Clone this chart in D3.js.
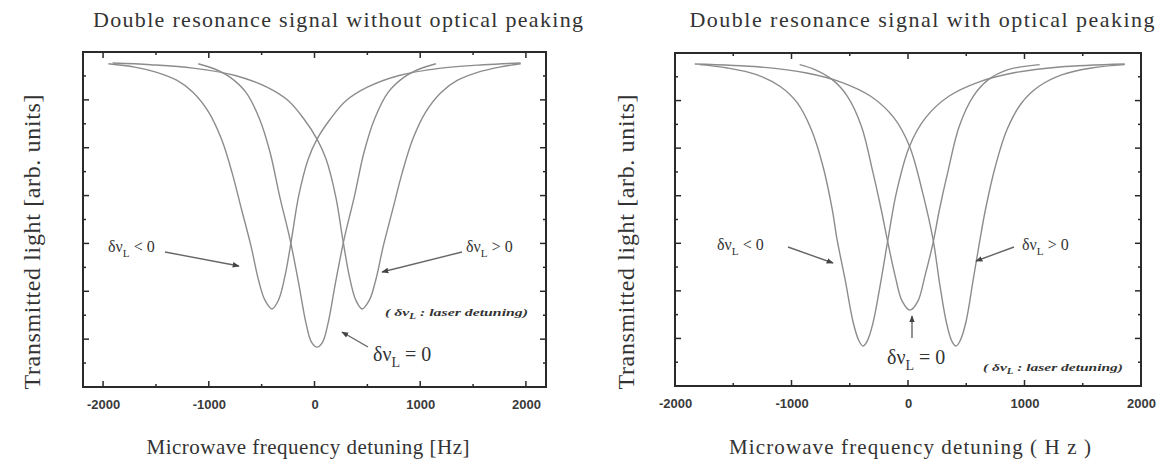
<!DOCTYPE html>
<html>
<head>
<meta charset="utf-8">
<script src="https://cdn.jsdelivr.net/npm/d3@7"></script>
<style>
  html, body { margin: 0; padding: 0; background: #fff; }
  svg { display: block; }
</style>
</head>
<body>
<svg id="chart" width="1167" height="469"></svg>
<script>
// ---- data: transmitted light (arb. units) vs microwave detuning (Hz) ----
const xTickValues = [-2000, -1000, 0, 1000, 2000];
const xTickLabels = ["-2000", "-1000", "0", "1000", "2000"];

// without optical peaking
const noPeakLowHz  = [-1950, -1700, -1500, -1300, -1150, -1000, -880, -780, -690, -600, -530, -470, -402, -340, -280, -218, -150, -60, 24, 150, 300, 500, 800, 1200, 1600, 1950];
const noPeakLowVal = [0.965, 0.955, 0.94, 0.915, 0.88, 0.82, 0.74, 0.64, 0.53, 0.42, 0.32, 0.26, 0.233, 0.26, 0.33, 0.44, 0.57, 0.68, 0.74, 0.80, 0.855, 0.895, 0.93, 0.952, 0.962, 0.967];
const noPeakCenterHz  = [-1100, -950, -800, -650, -520, -420, -330, -231, -150, -80, -30, 24, 78, 128, 198, 279, 378, 468, 568, 698, 848, 998, 1148];
const noPeakCenterVal = [0.965, 0.95, 0.925, 0.88, 0.80, 0.70, 0.57, 0.44, 0.31, 0.19, 0.135, 0.119, 0.135, 0.19, 0.31, 0.44, 0.57, 0.70, 0.80, 0.88, 0.925, 0.95, 0.965];
const noPeakHighHz  = [-1910, -1550, -1150, -750, -450, -250, -100, 24, 110, 200, 268, 330, 390, 450, 520, 580, 650, 740, 830, 930, 1050, 1200, 1350, 1550, 1750, 1950];
const noPeakHighVal = [0.967, 0.962, 0.952, 0.93, 0.895, 0.855, 0.80, 0.74, 0.68, 0.57, 0.44, 0.33, 0.26, 0.233, 0.26, 0.32, 0.42, 0.53, 0.64, 0.74, 0.82, 0.88, 0.915, 0.94, 0.955, 0.965];

// with optical peaking
const peakLowHz  = [-1790, -1550, -1300, -1100, -950, -830, -730, -650, -609, -540, -470, -420, -386, -350, -300, -240, -172, -100, 13, 150, 350, 600, 900, 1300, 1860];
const peakLowVal = [0.965, 0.955, 0.935, 0.90, 0.85, 0.77, 0.66, 0.53, 0.44, 0.32, 0.19, 0.135, 0.12, 0.135, 0.19, 0.30, 0.44, 0.58, 0.72, 0.805, 0.87, 0.912, 0.94, 0.958, 0.967];
const peakCenterHz  = [-930, -800, -650, -520, -400, -300, -230, -172, -110, -50, 17, 85, 145, 215, 270, 340, 440, 560, 690, 860, 1130];
const peakCenterVal = [0.965, 0.95, 0.92, 0.87, 0.78, 0.64, 0.53, 0.43, 0.33, 0.255, 0.228, 0.255, 0.33, 0.43, 0.53, 0.64, 0.78, 0.87, 0.92, 0.95, 0.965];
const peakHighHz  = [-1830, -1270, -870, -570, -320, -120, 13, 126, 215, 275, 330, 376, 412, 446, 496, 560, 618, 665, 750, 850, 975, 1125, 1325, 1575, 1860];
const peakHighVal = [0.967, 0.958, 0.94, 0.912, 0.87, 0.805, 0.72, 0.58, 0.44, 0.30, 0.19, 0.135, 0.12, 0.135, 0.19, 0.32, 0.44, 0.53, 0.66, 0.77, 0.85, 0.90, 0.935, 0.955, 0.965];

const panelTitles = ["Double resonance signal without optical peaking", "Double resonance signal with optical peaking"];
const xTitles = ["Microwave frequency detuning [Hz]", "Microwave frequency detuning ( H z )"];
const yTitle = "Transmitted light [arb. units]";

const zip = (xs, ys) => xs.map((x, i) => [x, ys[i]]);

const svg = d3.select("#chart");
const lineColor = "#8c8c8c";
const axisColor = "#2a2a2a";
const serif = "Liberation Serif, Times New Roman, serif";

function drawPanel(cfg) {
  const g = svg.append("g");
  const x = d3.scaleLinear().domain(cfg.domain).range([cfg.left, cfg.right]);
  const y = d3.scaleLinear().domain([0, 1]).range([cfg.bottom, cfg.top]);

  // frame
  g.append("rect")
    .attr("x", cfg.left).attr("y", cfg.top)
    .attr("width", cfg.right - cfg.left).attr("height", cfg.bottom - cfg.top)
    .attr("fill", "none").attr("stroke", axisColor).attr("stroke-width", 2);

  // inward ticks on all four sides
  const ticksX = d3.range(-2000, 2001, 500);
  const ticksY = d3.range(0, 1.0001, 1 / 14);
  ticksX.forEach(v => {
    const len = v % 1000 === 0 ? 6 : 3;
    g.append("line").attr("x1", x(v)).attr("x2", x(v)).attr("y1", cfg.bottom).attr("y2", cfg.bottom - len)
      .attr("stroke", axisColor).attr("stroke-width", 1.5);
    g.append("line").attr("x1", x(v)).attr("x2", x(v)).attr("y1", cfg.top).attr("y2", cfg.top + len)
      .attr("stroke", axisColor).attr("stroke-width", 1.5);
  });
  ticksY.forEach((v, i) => {
    const len = i % 2 === 0 ? 6 : 3;
    g.append("line").attr("x1", cfg.left).attr("x2", cfg.left + len).attr("y1", y(v)).attr("y2", y(v))
      .attr("stroke", axisColor).attr("stroke-width", 1.5);
    g.append("line").attr("x1", cfg.right).attr("x2", cfg.right - len).attr("y1", y(v)).attr("y2", y(v))
      .attr("stroke", axisColor).attr("stroke-width", 1.5);
  });

  // tick labels via d3 axis
  const ax = d3.axisBottom(x).tickValues(xTickValues).tickSize(0).tickPadding(13)
    .tickFormat((d, i) => xTickLabels[i]);
  const axG = g.append("g").attr("transform", `translate(0,${cfg.bottom})`).call(ax);
  axG.select(".domain").remove();
  axG.selectAll("text")
    .attr("font-family", "Liberation Sans, Arial, sans-serif")
    .attr("font-size", 13).attr("font-weight", "bold").attr("fill", "#3a3a3a");

  // curves
  const line = d3.line().x(d => x(d[0])).y(d => y(d[1])).curve(d3.curveCatmullRom.alpha(0.5));
  cfg.series.forEach(s => {
    g.append("path").datum(s).attr("d", line)
      .attr("fill", "none").attr("stroke", lineColor).attr("stroke-width", 1.4);
  });

  // titles
  g.append("text").attr("x", cfg.titleX).attr("y", 27).attr("text-anchor", "middle")
    .attr("font-family", serif).attr("font-size", 22)
    .attr("textLength", cfg.titleW).attr("lengthAdjust", "spacing")
    .attr("fill", "#333").text(cfg.title);
  g.append("text").attr("x", cfg.xTitleX).attr("y", 454).attr("text-anchor", "middle")
    .attr("font-family", serif).attr("font-size", 21)
    .attr("textLength", cfg.xTitleW).attr("lengthAdjust", "spacing")
    .attr("fill", "#333").text(cfg.xTitle);
  g.append("text").attr("transform", `translate(${cfg.yTitleX},${cfg.yTitleY}) rotate(-90)`)
    .attr("text-anchor", "middle")
    .attr("font-family", serif).attr("font-size", 24)
    .attr("textLength", 295).attr("lengthAdjust", "spacing")
    .attr("fill", "#333").text(yTitle);

  // annotations
  cfg.arrows.forEach(a => {
    g.append("line").attr("x1", a[0]).attr("y1", a[1]).attr("x2", a[2]).attr("y2", a[3])
      .attr("stroke", "#666").attr("stroke-width", 1.4).attr("marker-end", "url(#head)");
  });
  cfg.labels.forEach(l => {
    const t = g.append("text").attr("x", l.x).attr("y", l.y)
      .attr("font-family", serif)
      .attr("font-size", l.size).attr("fill", "#333");
    if (l.italic) t.attr("font-style", "italic").attr("font-weight", "bold");
    if (l.w) t.attr("textLength", l.w).attr("lengthAdjust", "spacingAndGlyphs");
    t.append("tspan").text(l.pre);
    t.append("tspan").attr("font-size", l.size * 0.7).attr("dy", l.size * 0.3).text("L");
    t.append("tspan").attr("dy", -l.size * 0.3).text(l.post);
  });
}

svg.append("defs").append("marker").attr("id", "head")
  .attr("viewBox", "0 0 10 10").attr("refX", 9).attr("refY", 5)
  .attr("markerWidth", 5).attr("markerHeight", 5).attr("orient", "auto")
  .append("path").attr("d", "M0,1 L10,5 L0,9 Z").attr("fill", "#444");

drawPanel({
  domain: [-2190, 2190], left: 83, right: 546, top: 52, bottom: 387,
  title: panelTitles[0], titleX: 338, titleW: 490,
  xTitle: xTitles[0], xTitleX: 308, xTitleW: 323,
  yTitleX: 40, yTitleY: 242,
  series: [zip(noPeakLowHz, noPeakLowVal), zip(noPeakCenterHz, noPeakCenterVal), zip(noPeakHighHz, noPeakHighVal)],
  arrows: [[165, 252, 239, 266], [462, 252, 382, 272], [368, 347, 342, 332]],
  labels: [
    { x: 108, y: 252, size: 16, pre: "δν", post: " < 0" },
    { x: 466, y: 252, size: 16, pre: "δν", post: " > 0" },
    { x: 373, y: 361, size: 20, pre: "δν", post: " = 0" },
    { x: 385, y: 316, size: 11, italic: true, w: 143, pre: "( δν", post: " : laser detuning)" }
  ]
});

drawPanel({
  domain: [-2000, 2000], left: 675, right: 1141, top: 53, bottom: 386,
  title: panelTitles[1], titleX: 922, titleW: 465,
  xTitle: xTitles[1], xTitleX: 910, xTitleW: 362,
  yTitleX: 634, yTitleY: 242,
  series: [zip(peakLowHz, peakLowVal), zip(peakCenterHz, peakCenterVal), zip(peakHighHz, peakHighVal)],
  arrows: [[788, 247, 833, 263], [1014, 247, 976, 261], [912, 338, 912, 316]],
  labels: [
    { x: 717, y: 250, size: 16, pre: "δν", post: " < 0" },
    { x: 1022, y: 250, size: 16, pre: "δν", post: " > 0" },
    { x: 887, y: 364, size: 20, pre: "δν", post: " = 0" },
    { x: 983, y: 371, size: 11, italic: true, w: 140, pre: "( δν", post: " : laser detuning)" }
  ]
});
</script>
</body>
</html>
